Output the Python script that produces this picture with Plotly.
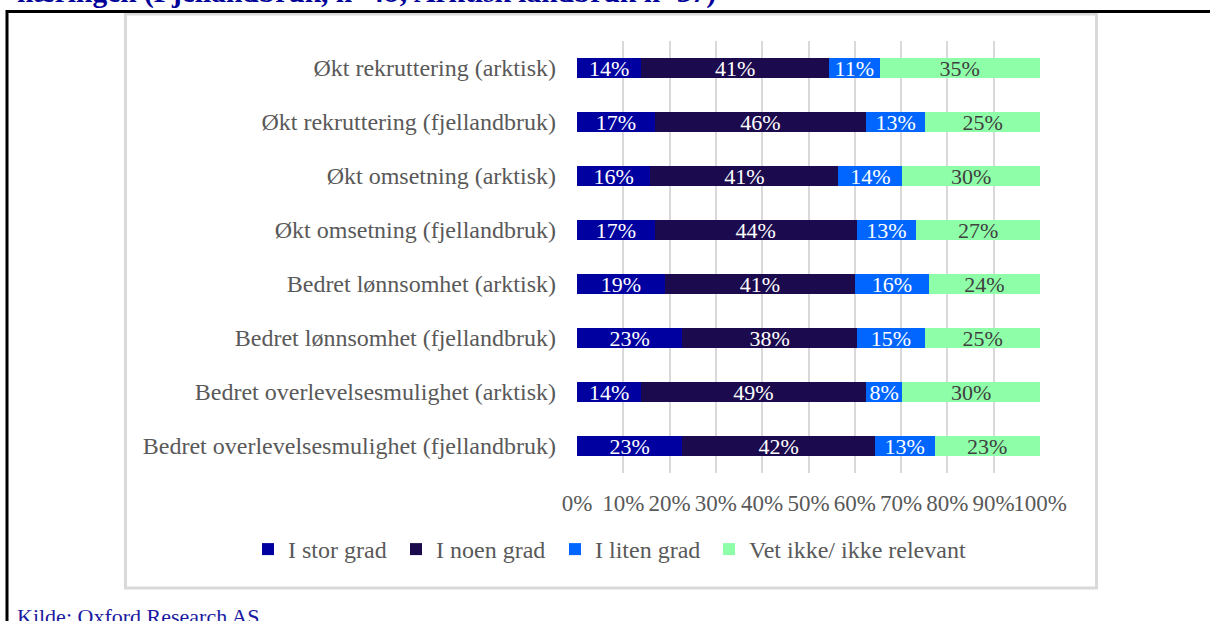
import plotly.graph_objects as go

categories = [
    "Økt rekruttering (arktisk)",
    "Økt rekruttering (fjellandbruk)",
    "Økt omsetning (arktisk)",
    "Økt omsetning (fjellandbruk)",
    "Bedret lønnsomhet (arktisk)",
    "Bedret lønnsomhet (fjellandbruk)",
    "Bedret overlevelsesmulighet (arktisk)",
    "Bedret overlevelsesmulighet (fjellandbruk)",
]
series_names = ["I stor grad", "I noen grad", "I liten grad", "Vet ikke/ ikke relevant"]
stor_grad = [14, 17, 16, 17, 19, 23, 14, 23]
noen_grad = [41, 46, 41, 44, 41, 38, 49, 42]
liten_grad = [11, 13, 14, 13, 16, 15, 8, 13]
vet_ikke = [35, 25, 30, 27, 24, 25, 30, 23]
tick_values = [0, 10, 20, 30, 40, 50, 60, 70, 80, 90, 100]
tick_labels = ["0%", "10%", "20%", "30%", "40%", "50%", "60%", "70%", "80%", "90%", "100%"]

colors = ["#0000A0", "#1C0A4E", "#0066FF", "#8EFFA8"]
text_colors = ["#FFFFFF", "#FFFFFF", "#FFFFFF", "#404040"]

W, H = 1210, 621
ML, MR, MT, MB = 577, 170, 41, 148
PW, PH = W - ML - MR, H - MT - MB


def px_x(px):
    return (px - ML) / PW


def px_y(py):
    return 1 - (py - MT) / PH


FONT = "Liberation Serif, Times New Roman, serif"
legend_ids = ["legend", "legend2", "legend3", "legend4"]
legend_left_px = [248, 396, 555, 709]

fig = go.Figure()
for name, vals, col, tcol, lid in zip(series_names, [stor_grad, noen_grad, liten_grad, vet_ikke],
                                      colors, text_colors, legend_ids):
    fig.add_trace(go.Bar(
        name=name,
        y=categories,
        x=vals,
        orientation="h",
        marker=dict(color=col, line=dict(width=0)),
        text=vals,
        texttemplate="%{text}%",
        textposition="inside",
        insidetextanchor="middle",
        textangle=0,
        constraintext="none",
        textfont=dict(family=FONT, size=22, color=tcol),
        hoverinfo="skip",
        legend=lid,
    ))

shapes = [
    # inner light-grey chart frame
    dict(type="rect", xref="paper", yref="paper",
         x0=px_x(125.5), x1=px_x(1096.5), y0=px_y(14), y1=px_y(588),
         line=dict(color="#D9D9D9", width=3), fillcolor="rgba(0,0,0,0)", layer="below"),
    # outer black box (top and left edges)
    dict(type="line", xref="paper", yref="paper",
         x0=px_x(7), x1=px_x(1212), y0=px_y(11.5), y1=px_y(11.5),
         line=dict(color="#000000", width=3)),
    dict(type="line", xref="paper", yref="paper",
         x0=px_x(7), x1=px_x(7), y0=px_y(10), y1=px_y(625),
         line=dict(color="#000000", width=3)),
]

annotations = [
    dict(text="næringen (Fjellandbruk, n=48; Arktisk landbruk n=37)",
         xref="paper", yref="paper", x=px_x(15), y=px_y(-7.5),
         xanchor="left", yanchor="middle", showarrow=False,
         font=dict(family=FONT, size=29.5, color="#000099", weight="bold")),
    dict(text="Kilde: Oxford Research AS",
         xref="paper", yref="paper", x=px_x(15), y=px_y(616),
         xanchor="left", yanchor="middle", showarrow=False,
         font=dict(family=FONT, size=22, color="#1A1AA0")),
]

legend_common = dict(
    orientation="h",
    xref="paper", yref="paper",
    xanchor="left", yanchor="top",
    font=dict(family=FONT, size=24, color="#595959"),
    bgcolor="rgba(0,0,0,0)",
    borderwidth=0,
)
legend_layout = {}
for lid, lx in zip(legend_ids, legend_left_px):
    legend_layout[lid] = dict(legend_common, x=px_x(lx), y=px_y(527))

fig.update_layout(
    width=W, height=H,
    margin=dict(l=ML, r=MR, t=MT, b=MB, autoexpand=False),
    barmode="stack",
    barnorm="percent",
    bargap=0.63,
    paper_bgcolor="#FFFFFF",
    plot_bgcolor="#FFFFFF",
    showlegend=True,
    xaxis=dict(
        range=[0, 100],
        tickvals=tick_values,
        ticktext=tick_labels,
        tickangle=0,
        showgrid=True, gridcolor="#D9D9D9", gridwidth=2,
        zeroline=False,
        showline=False,
        ticks="",
        ticklabelstandoff=14,
        tickfont=dict(family=FONT, size=23, color="#595959"),
        fixedrange=True,
    ),
    yaxis=dict(
        categoryorder="array",
        categoryarray=categories,
        autorange="reversed",
        showgrid=False,
        zeroline=False,
        showline=False,
        ticks="",
        ticklabelstandoff=20,
        tickfont=dict(family=FONT, size=24, color="#595959"),
        fixedrange=True,
    ),
    shapes=shapes,
    annotations=annotations,
    **legend_layout,
)

fig.write_html(
    "out.html",
    config={"displayModeBar": False},
    post_script="document.body.style.margin='0px';document.body.style.padding='0px';",
)
